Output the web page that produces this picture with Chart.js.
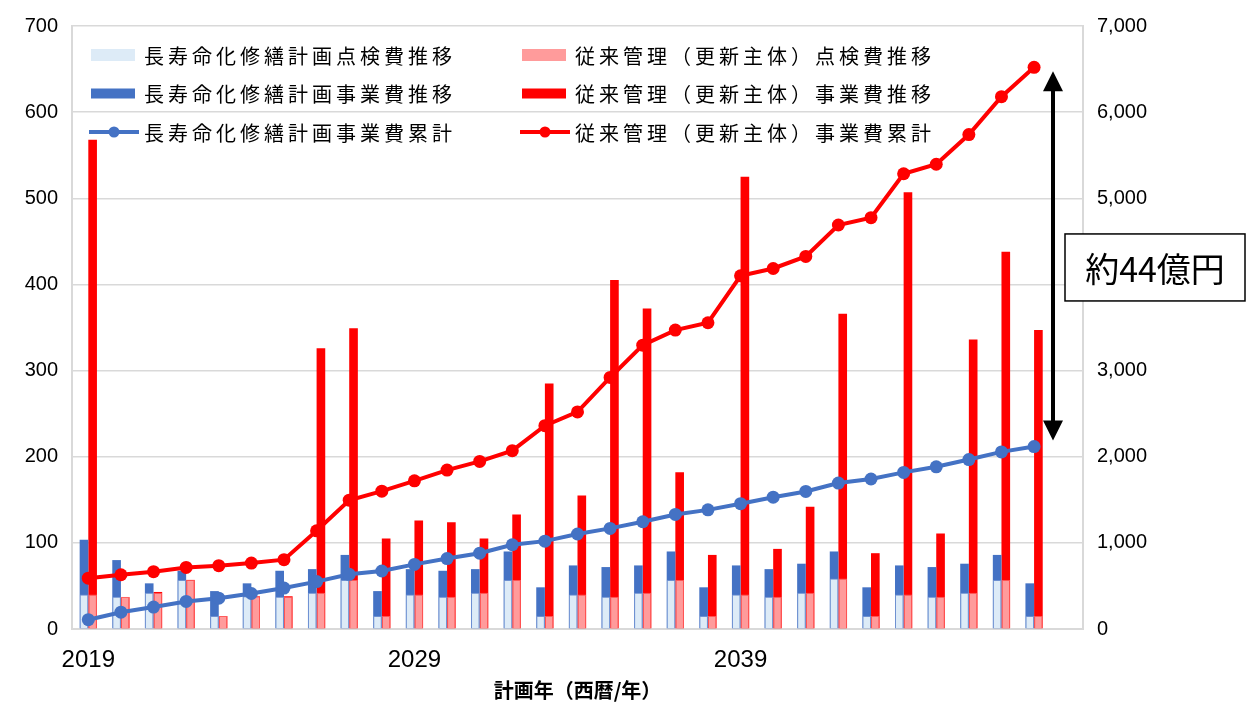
<!DOCTYPE html>
<html lang="ja">
<head>
<meta charset="utf-8">
<script src="https://cdn.jsdelivr.net/npm/chart.js@4.4.1/dist/chart.umd.min.js"></script>
<style>
  html, body { margin: 0; padding: 0; background: #fff; }
  #wrap { width: 1247px; height: 702px; }
</style>
</head>
<body>
<div id="wrap"><canvas id="chart" width="1247" height="702"></canvas></div>
<script>
const years = ["2019", "2020", "2021", "2022", "2023", "2024", "2025", "2026", "2027", "2028",
  "2029", "2030", "2031", "2032", "2033", "2034", "2035", "2036", "2037", "2038",
  "2039", "2040", "2041", "2042", "2043", "2044", "2045", "2046", "2047", "2048", "2049"];

// 長寿命化修繕計画 (left axis)
const planInspect = [40, 37.5, 42, 57, 15, 38, 37.5, 42, 57, 15, 40, 37.5, 42, 57, 15,
  40, 37.5, 42, 57, 15, 40, 37.5, 42, 58.6, 15, 40, 37.5, 42, 57, 15, null];
const planBusiness = [103.5, 80, 53, 67.6, 44, 53, 67.6, 69.5, 86, 44, 69.5, 67.6, 69.5, 90, 48.4,
  73.8, 71.9, 73.8, 90, 48.4, 73.8, 69.5, 75.8, 90, 48.4, 73.8, 71.9, 75.8, 86, 53, null];

// 従来管理（更新主体） (left axis)
const convInspect = [40, 37.5, 42, 57, 15, 38, 37.5, 42, 57, 15, 40, 37.5, 42, 57, 15,
  40, 37.5, 42, 57, 15, 40, 37.5, 42, 58.6, 15, 40, 37.5, 42, 57, 15, null];
const convBusiness = [568, 37, 43, 57, 15, 38, 38, 326, 349, 105, 126, 124, 105, 133, 285,
  155, 405, 372, 182, 86, 525, 93, 142, 366, 88, 507, 111, 336, 438, 347, null];

// 累計 (right axis)
const planCum = [108, 195, 255, 320, 358, 412, 475, 550, 635, 673, 750, 818, 880, 978, 1020,
  1103, 1168, 1245, 1330, 1383, 1455, 1530, 1597, 1694, 1741, 1818, 1883, 1967, 2056, 2118, null];
const convCum = [590, 630, 665, 715, 735, 765, 805, 1140, 1495, 1600, 1720, 1845, 1945, 2070, 2360,
  2520, 2920, 3295, 3470, 3555, 4100, 4185, 4325, 4690, 4775, 5285, 5395, 5740, 6180, 6520, null];

const gapLabel = "約44億円";

const CJK = '"Noto Sans CJK JP", "Noto Sans", sans-serif';
const LATIN = '"Liberation Sans", Arial, sans-serif';
const GRID = "#d9d9d9";

// legend drawn inside the plot, 2 columns x 3 rows
const insideLegend = {
  id: "insideLegend",
  afterDraw(chart) {
    const { ctx, chartArea } = chart;
    ctx.save();
    chart.data.datasets.forEach((ds, i) => {
      const x = chartArea.left + 17 + (i % 2) * 431;
      const y = chartArea.top + 29 + Math.floor(i / 2) * 38.5;
      if (ds.type === "line") {
        ctx.strokeStyle = ds.borderColor;
        ctx.lineWidth = 4;
        ctx.beginPath();
        ctx.moveTo(x, y);
        ctx.lineTo(x + 50, y);
        ctx.stroke();
        ctx.fillStyle = ds.borderColor;
        ctx.beginPath();
        ctx.arc(x + 25, y, 5.5, 0, Math.PI * 2);
        ctx.fill();
      } else {
        const h = ds.legendBox;
        ctx.fillStyle = ds.backgroundColor;
        ctx.fillRect(x + 2, y - h / 2, 44, h);
      }
      ctx.fillStyle = "#000";
      ctx.font = `20px ${CJK}`;
      ctx.letterSpacing = "4px";
      ctx.textBaseline = "middle";
      ctx.fillText(ds.label, x + 55, y + 1);
      ctx.letterSpacing = "0px";
    });
    ctx.restore();
  }
};

// double arrow between the two cumulative totals + label box
const gapArrow = {
  id: "gapArrow",
  afterDraw(chart) {
    const { ctx, chartArea } = chart;
    const y2 = chart.scales.y2;
    const last = convCum.filter((v) => v != null).length - 1;
    const yTop = y2.getPixelForValue(convCum[last]) + 4;
    const yBot = y2.getPixelForValue(planCum[last]) - 6;
    const x = chartArea.right - 30;
    const head = 20;
    ctx.save();
    ctx.strokeStyle = "#000";
    ctx.fillStyle = "#000";
    ctx.lineWidth = 4;
    ctx.beginPath();
    ctx.moveTo(x, yTop + head - 2);
    ctx.lineTo(x, yBot - head + 2);
    ctx.stroke();
    ctx.beginPath();
    ctx.moveTo(x, yTop);
    ctx.lineTo(x - 10, yTop + head);
    ctx.lineTo(x + 10, yTop + head);
    ctx.closePath();
    ctx.fill();
    ctx.beginPath();
    ctx.moveTo(x, yBot);
    ctx.lineTo(x - 10, yBot - head);
    ctx.lineTo(x + 10, yBot - head);
    ctx.closePath();
    ctx.fill();

    const mid = (yTop + yBot) / 2 + 12;
    const bx = x + 12;
    const bw = chart.width - 2 - bx;
    ctx.fillStyle = "#fff";
    ctx.fillRect(bx, mid - 34, bw, 67);
    ctx.lineWidth = 1.5;
    ctx.strokeRect(bx, mid - 34, bw, 67);
    ctx.fillStyle = "#000";
    ctx.font = `34px ${CJK}`;
    ctx.textAlign = "center";
    ctx.textBaseline = "middle";
    ctx.fillText(gapLabel, bx + bw / 2, mid + 1);
    ctx.restore();
  }
};

new Chart(document.getElementById("chart"), {
  type: "bar",
  data: {
    labels: years,
    datasets: [
      {
        label: "長寿命化修繕計画点検費推移",
        data: planInspect,
        stack: "plan",
        order: 1,
        backgroundColor: "#DDEBF7",
        borderColor: "rgba(143,170,220,0.55)",
        borderWidth: 1,
        legendBox: 12
      },
      {
        label: "従来管理（更新主体）点検費推移",
        data: convInspect,
        stack: "conv",
        order: 1,
        backgroundColor: "#FF9B9B",
        borderColor: "rgba(255,140,140,0.6)",
        borderWidth: 1,
        legendBox: 12
      },
      {
        label: "長寿命化修繕計画事業費推移",
        data: planBusiness,
        stack: "plan",
        order: 2,
        backgroundColor: "#4472C4",
        legendBox: 10
      },
      {
        label: "従来管理（更新主体）事業費推移",
        data: convBusiness,
        stack: "conv",
        order: 2,
        backgroundColor: "#FF0000",
        legendBox: 10
      },
      {
        type: "line",
        label: "長寿命化修繕計画事業費累計",
        data: planCum,
        yAxisID: "y2",
        order: 0,
        borderColor: "#4472C4",
        backgroundColor: "#4472C4",
        borderWidth: 4,
        pointRadius: 6.5,
        pointBorderWidth: 0,
        pointBackgroundColor: "#4472C4",
        tension: 0
      },
      {
        type: "line",
        label: "従来管理（更新主体）事業費累計",
        data: convCum,
        yAxisID: "y2",
        order: 0,
        borderColor: "#FF0000",
        backgroundColor: "#FF0000",
        borderWidth: 4,
        pointRadius: 6.5,
        pointBorderWidth: 0,
        pointBackgroundColor: "#FF0000",
        tension: 0
      }
    ]
  },
  options: {
    responsive: false,
    animation: false,
    devicePixelRatio: 1,
    categoryPercentage: 0.53,
    barPercentage: 1,
    layout: { padding: { top: 22, left: 0, right: 0, bottom: 0 } },
    plugins: {
      legend: { display: false },
      tooltip: { enabled: false }
    },
    scales: {
      x: {
        stacked: true,
        grid: { display: false, drawTicks: false },
        border: { display: true, color: GRID, width: 2 },
        ticks: {
          autoSkip: false,
          maxRotation: 0,
          padding: 17,
          color: "#000",
          font: { family: LATIN, size: 24 },
          callback(value, index) {
            return index % 10 === 0 && index < years.length - 1 ? this.getLabelForValue(value) : "";
          }
        },
        title: {
          display: true,
          text: "計画年（西暦/年）",
          color: "#000",
          font: { family: CJK, size: 20, weight: "bold" },
          padding: { top: 0, bottom: 0 }
        },
        afterFit(scale) { scale.height = 73; }
      },
      y: {
        stacked: false,
        min: 0,
        max: 700,
        grid: { color: GRID, lineWidth: 1.5, drawTicks: false },
        border: { display: true, color: GRID, width: 2 },
        ticks: {
          stepSize: 100,
          padding: 14,
          color: "#000",
          font: { family: LATIN, size: 20 }
        },
        afterFit(scale) { scale.width = 72; }
      },
      y2: {
        position: "right",
        min: 0,
        max: 7000,
        grid: { display: false, drawTicks: false },
        border: { display: true, color: GRID, width: 2 },
        ticks: {
          stepSize: 1000,
          padding: 14,
          color: "#000",
          font: { family: LATIN, size: 20 },
          callback: (v) => v.toLocaleString("en-US")
        },
        afterFit(scale) { scale.width = 164; }
      }
    }
  },
  plugins: [insideLegend, gapArrow]
});
</script>
</body>
</html>
